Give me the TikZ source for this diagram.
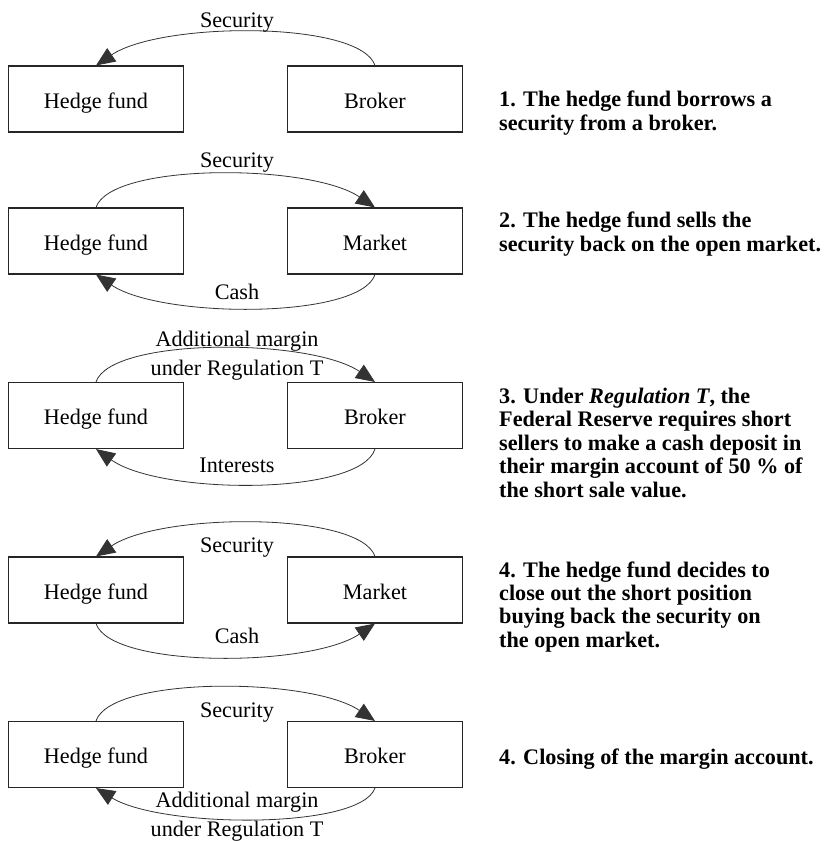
\documentclass[tikz,border=0pt]{standalone}
\usepackage{fontspec}
\setmainfont{Liberation Serif}
\usetikzlibrary{arrows.meta}
\newcommand\fsz{\fontsize{22.2}{26}\selectfont}
\begin{document}
\begin{tikzpicture}[x=1pt,y=-1pt,
  box/.style={draw=black!85,line width=1.1pt,minimum width=175pt,minimum height=66pt,inner sep=0pt,text height=18pt,text depth=0pt,font=\fsz},
  lbl/.style={anchor=base,inner sep=0pt,font=\fsz},
  desc/.style={anchor=base west,inner sep=0pt,font=\fsz\bfseries},
  flow/.style={line width=0.8pt,draw=black!80,-{Triangle[length=19pt,width=16pt]}}]
\useasboundingbox (0,0) rectangle (826,841);

% Row 1
\node[box] (hf1) at (96,99) {Hedge fund};
\node[box] (br1) at (375,99) {Broker};
\draw[flow] (br1.north) .. controls +(-15,-45) and +(65,-44) .. (hf1.north);
\node[lbl] (s1) at (237,27) {Security};

% Row 2
\node[box] (hf2) at (96,241) {Hedge fund};
\node[box] (mk2) at (375,241) {Market};
\draw[flow] (hf2.north) .. controls +(15,-45) and +(-65,-44) .. (mk2.north);
\draw[flow] (mk2.south) .. controls +(-15,45) and +(65,44) .. (hf2.south);
\node[lbl] (s2) at (237,167) {Security};
\node[lbl] (c2) at (237,299) {Cash};

% Row 3
\node[box] (hf3) at (96,415.5) {Hedge fund};
\node[box] (br3) at (375,415.5) {Broker};
\draw[flow] (hf3.north) .. controls +(15,-45) and +(-65,-44) .. (br3.north);
\draw[flow] (br3.south) .. controls +(-15,47) and +(65,46) .. (hf3.south);
\node[lbl] (a3) at (237,346) {Additional margin};
\node[lbl] (u3) at (237,375) {under Regulation T};
\node[lbl] (i3) at (237,472) {Interests};

% Row 4
\node[box] (hf4) at (96,590) {Hedge fund};
\node[box] (mk4) at (375,590) {Market};
\draw[flow] (mk4.north) .. controls +(-15,-45) and +(65,-44) .. (hf4.north);
\draw[flow] (hf4.south) .. controls +(15,45) and +(-65,44) .. (mk4.south);
\node[lbl] (s4) at (237,552) {Security};
\node[lbl] (c4) at (237,643) {Cash};

% Row 5
\node[box] (hf5) at (96,754.5) {Hedge fund};
\node[box] (br5) at (375,754.5) {Broker};
\draw[flow] (hf5.north) .. controls +(15,-45) and +(-65,-44) .. (br5.north);
\draw[flow] (br5.south) .. controls +(-15,42) and +(65,40) .. (hf5.south);
\node[lbl] (s5) at (237,717) {Security};
\node[lbl] (a5) at (237,807) {Additional margin};
\node[lbl] (u5) at (237,836) {under Regulation T};

% Descriptions
\foreach \t [count=\n] in {{1. The hedge fund borrows a},{security from a broker.}}
  \node[desc] (d1-\n) at (499,{106+24*(\n-1)}) {\t};
\foreach \t [count=\n] in {{2. The hedge fund sells the},{security back on the open market.}}
  \node[desc] (d2-\n) at (499,{227+24*(\n-1)}) {\t};
\foreach \t [count=\n] in {{3. Under \textit{Regulation T}, the},{Federal Reserve requires short},{sellers to make a cash deposit in},{their margin account of 50 \% of},{the short sale value.}}
  \node[desc] (d3-\n) at (499,{403+23.5*(\n-1)}) {\t};
\foreach \t [count=\n] in {{4. The hedge fund decides to},{close out the short position},{buying back the security on},{the open market.}}
  \node[desc] (d4-\n) at (499,{577+23.4*(\n-1)}) {\t};
\node[desc] (d5-1) at (499,764) {4. Closing of the margin account.};
\end{tikzpicture}
\end{document}
